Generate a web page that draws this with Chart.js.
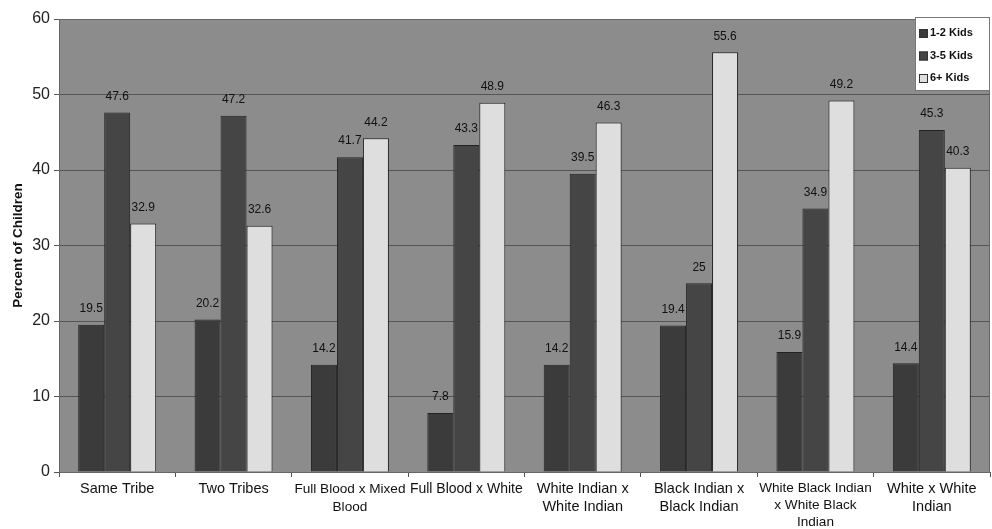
<!DOCTYPE html>
<html>
<head>
<meta charset="utf-8">
<script src="https://cdn.jsdelivr.net/npm/chart.js@4/dist/chart.umd.min.js"></script>
<style>
  html, body { margin: 0; padding: 0; background: #ffffff; }
  #wrap { width: 992px; height: 529px; position: relative; }
</style>
</head>
<body>
<div id="wrap"><canvas id="c"></canvas></div>
<script>
// Family-type groups along the x axis
const categories = [
  ["Same Tribe"],
  ["Two Tribes"],
  ["Full Blood x Mixed", "Blood"],
  ["Full Blood x White"],
  ["White Indian x", "White Indian"],
  ["Black Indian x", "Black Indian"],
  ["White Black Indian", "x White Black", "Indian"],
  ["White x White", "Indian"]
];

const seriesNames = ["1-2 Kids", "3-5 Kids", "6+ Kids"];
const kids1to2 = [19.5, 20.2, 14.2, 7.8, 14.2, 19.4, 15.9, 14.4];
const kids3to5 = [47.6, 47.2, 41.7, 43.3, 39.5, 25, 34.9, 45.3];
const kids6plus = [32.9, 32.6, 44.2, 48.9, 46.3, 55.6, 49.2, 40.3];

const yTicks = [0, 10, 20, 30, 40, 50, 60];

const barColors = ["#3b3b3b", "#454545", "#dedede"];

// Category labels come in slightly different sizes
const labelSizes = [14.5, 14.5, 13.6, 14, 14.5, 14.5, 13.6, 14.5];

const FONT = "'Liberation Sans', Arial, sans-serif";

// Grey plot background and frame
const plotBackground = {
  id: "plotBackground",
  beforeDraw(chart) {
    const { ctx, chartArea: a } = chart;
    ctx.save();
    ctx.fillStyle = "#8c8c8c";
    ctx.fillRect(a.left, a.top, a.right - a.left, a.bottom - a.top);
    ctx.restore();
  },
  afterDraw(chart) {
    const { ctx, chartArea: a } = chart;
    ctx.save();
    ctx.strokeStyle = "#666666";
    ctx.lineWidth = 1;
    ctx.strokeRect(a.left + 0.5, a.top + 0.5, a.right - a.left - 1, a.bottom - a.top);
    ctx.restore();
  }
};

// Value labels above each bar
const valueLabels = {
  id: "valueLabels",
  afterDatasetsDraw(chart) {
    const { ctx } = chart;
    ctx.save();
    ctx.font = "12px " + FONT;
    ctx.fillStyle = "#111111";
    ctx.textAlign = "center";
    ctx.textBaseline = "bottom";
    chart.data.datasets.forEach((ds, i) => {
      chart.getDatasetMeta(i).data.forEach((bar, j) => {
        ctx.fillText(String(ds.data[j]), bar.x, bar.y - 10);
      });
    });
    ctx.restore();
  }
};

// Legend box in the top-right corner of the plot
const boxLegend = {
  id: "boxLegend",
  afterDraw(chart) {
    const { ctx, chartArea: a } = chart;
    const w = 74, h = 73;
    const x = a.right - w - 1, y = a.top - 2;
    ctx.save();
    ctx.fillStyle = "#ffffff";
    ctx.fillRect(x, y, w, h);
    ctx.strokeStyle = "#777777";
    ctx.lineWidth = 1;
    ctx.strokeRect(x + 0.5, y + 0.5, w, h);
    ctx.font = "bold 11px " + FONT;
    ctx.textBaseline = "middle";
    chart.data.datasets.forEach((ds, i) => {
      const cy = y + 16 + i * 22.5;
      ctx.fillStyle = ds.backgroundColor;
      ctx.fillRect(x + 4, cy - 4, 9, 9);
      ctx.strokeStyle = "#333333";
      ctx.strokeRect(x + 4.5, cy - 3.5, 8, 8);
      ctx.fillStyle = "#111111";
      ctx.fillText(ds.label, x + 15, cy);
    });
    ctx.restore();
  }
};

const datasets = [kids1to2, kids3to5, kids6plus].map((values, i) => ({
  label: seriesNames[i],
  data: values,
  backgroundColor: barColors[i],
  borderColor: "#222222",
  borderWidth: 1,
  categoryPercentage: 0.67,
  barPercentage: 1.0
}));

new Chart(document.getElementById("c"), {
  type: "bar",
  data: { labels: categories, datasets },
  options: {
    responsive: true,
    maintainAspectRatio: false,
    animation: false,
    layout: { padding: { top: 19, right: 2, left: 0, bottom: 0 } },
    plugins: {
      legend: { display: false },
      tooltip: { enabled: false }
    },
    scales: {
      x: {
        offset: true,
        afterFit(axis) { axis.height = 57; },
        grid: {
          offset: true,
          drawOnChartArea: false,
          drawTicks: true,
          tickLength: 5,
          color: "#555555"
        },
        border: { display: true, color: "#555555" },
        ticks: {
          color: "#111111",
          font: (ctx) => ({
            family: FONT,
            size: labelSizes[ctx.index] || 14.5,
            lineHeight: ctx.index === 6 ? "17px" : "18px"
          }),
          maxRotation: 0,
          autoSkip: false,
          padding: 3
        }
      },
      y: {
        min: 0,
        max: 60,
        afterBuildTicks(axis) {
          axis.ticks = yTicks.map(v => ({ value: v }));
        },
        afterFit(axis) { axis.width = 59; },
        grid: {
          color: "#555555",
          drawTicks: true,
          tickLength: 5
        },
        border: { display: true, color: "#555555" },
        ticks: {
          color: "#222222",
          font: { family: FONT, size: 16 },
          padding: 4
        },
        title: {
          display: true,
          text: "Percent of Children",
          color: "#111111",
          font: { family: FONT, size: 13.5, weight: "bold" },
          padding: { top: 10, bottom: 0 }
        }
      }
    }
  },
  plugins: [plotBackground, valueLabels, boxLegend]
});
</script>
</body>
</html>
